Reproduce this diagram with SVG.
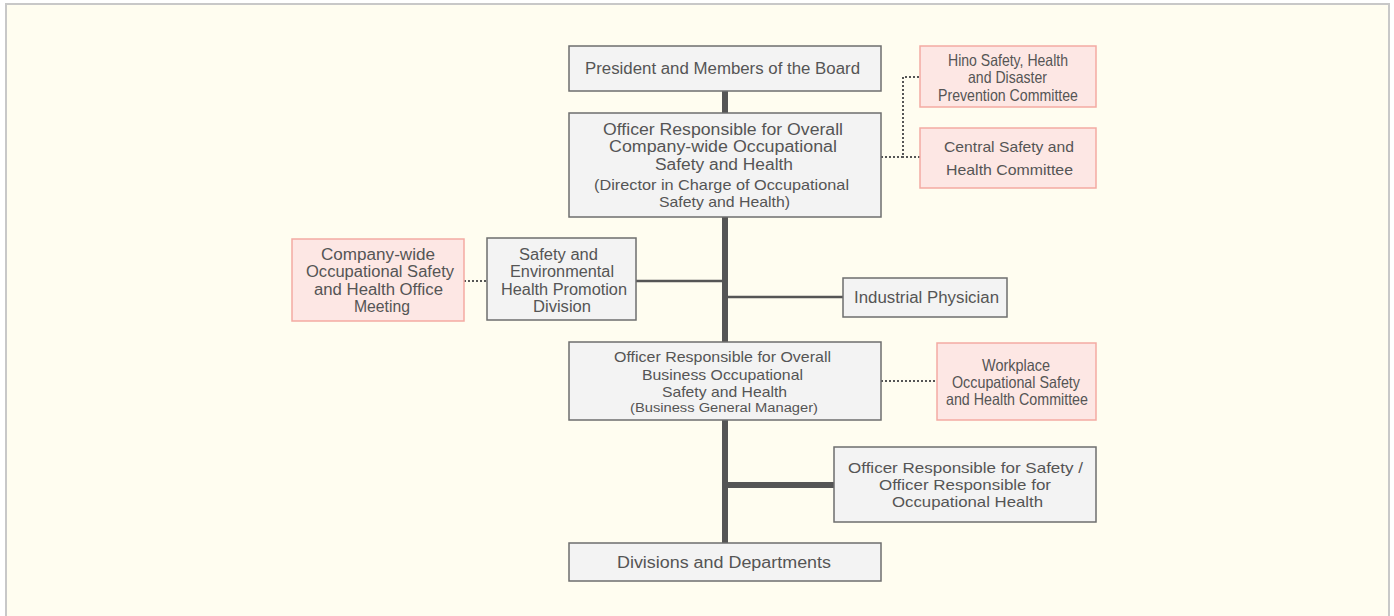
<svg xmlns="http://www.w3.org/2000/svg" width="1394" height="616" viewBox="0 0 1394 616">
<style>
.bg{fill:#fffdf0;stroke:#c8c8c8;stroke-width:2}
.g{fill:#f3f3f3;stroke:#6e6e6e;stroke-width:1.5}
.p{fill:#fde7e4;stroke:#f4aaa2;stroke-width:1.5}
text{font-family:"Liberation Sans",Arial,sans-serif;fill:#555;font-size:16px;text-anchor:middle}
.n{font-size:15px}
.c{font-size:16.5px}
.main{stroke:#555;stroke-width:6;fill:none}
.thin{stroke:#555;stroke-width:2.5;fill:none}
.dot{stroke:#555;stroke-width:2;stroke-dasharray:2 2;fill:none}
</style>
<rect class="bg" x="6" y="4" width="1383" height="620"/>
<g id="connectors">
<line class="main" x1="725" y1="91" x2="725" y2="543"/>
<line class="thin" x1="636" y1="281" x2="722" y2="281"/>
<line class="thin" x1="728" y1="297" x2="843" y2="297"/>
<line class="main" x1="725" y1="485" x2="834" y2="485"/>
<polyline class="dot" points="881,157 903,157 903,77 920,77"/>
<line class="dot" x1="920" y1="157" x2="903" y2="157"/>
<line class="dot" x1="464" y1="281" x2="487" y2="281"/>
<line class="dot" x1="881" y1="381" x2="937" y2="381"/>
</g>
<g id="president">
<rect class="g" x="569" y="46" width="312" height="45"/>
<text x="722.5" y="74" textLength="275" lengthAdjust="spacingAndGlyphs">President and Members of the Board</text>
</g>
<g id="officer-company">
<rect class="g" x="569" y="113" width="312" height="104"/>
<text x="723" y="135" textLength="240" lengthAdjust="spacingAndGlyphs">Officer Responsible for Overall</text>
<text x="723" y="152" textLength="228" lengthAdjust="spacingAndGlyphs">Company-wide Occupational</text>
<text x="724" y="170" textLength="138" lengthAdjust="spacingAndGlyphs">Safety and Health</text>
<text class="n" x="721.5" y="190" textLength="255" lengthAdjust="spacingAndGlyphs">(Director in Charge of Occupational</text>
<text class="n" x="724.5" y="207" textLength="131" lengthAdjust="spacingAndGlyphs">Safety and Health)</text>
</g>
<g id="hino">
<rect class="p" x="920" y="46" width="176" height="61"/>
<text class="c" x="1008" y="66" textLength="120" lengthAdjust="spacingAndGlyphs">Hino Safety, Health</text>
<text class="c" x="1007.5" y="83" textLength="79" lengthAdjust="spacingAndGlyphs">and Disaster</text>
<text class="c" x="1008" y="101" textLength="140" lengthAdjust="spacingAndGlyphs">Prevention Committee</text>
</g>
<g id="central">
<rect class="p" x="920" y="128" width="176" height="60"/>
<text class="n" x="1009" y="152" textLength="130" lengthAdjust="spacingAndGlyphs">Central Safety and</text>
<text class="n" x="1009.5" y="175" textLength="127" lengthAdjust="spacingAndGlyphs">Health Committee</text>
</g>
<g id="meeting">
<rect class="p" x="292" y="239" width="172" height="82"/>
<text x="378" y="260" textLength="114" lengthAdjust="spacingAndGlyphs">Company-wide</text>
<text x="380" y="277" textLength="148" lengthAdjust="spacingAndGlyphs">Occupational Safety</text>
<text x="378.5" y="295" textLength="129" lengthAdjust="spacingAndGlyphs">and Health Office</text>
<text x="382" y="312" textLength="56" lengthAdjust="spacingAndGlyphs">Meeting</text>
</g>
<g id="safety-division">
<rect class="g" x="487" y="238" width="149" height="82"/>
<text x="558.5" y="260" textLength="79" lengthAdjust="spacingAndGlyphs">Safety and</text>
<text x="562" y="277" textLength="104" lengthAdjust="spacingAndGlyphs">Environmental</text>
<text x="564" y="295" textLength="126" lengthAdjust="spacingAndGlyphs">Health Promotion</text>
<text x="562" y="312" textLength="58" lengthAdjust="spacingAndGlyphs">Division</text>
</g>
<g id="physician">
<rect class="g" x="843" y="278" width="164" height="39"/>
<text x="926.5" y="303" textLength="145" lengthAdjust="spacingAndGlyphs">Industrial Physician</text>
</g>
<g id="officer-business">
<rect class="g" x="569" y="342" width="312" height="78"/>
<text class="n" x="722.5" y="362" textLength="217" lengthAdjust="spacingAndGlyphs">Officer Responsible for Overall</text>
<text class="n" x="722.5" y="380" textLength="161" lengthAdjust="spacingAndGlyphs">Business Occupational</text>
<text class="n" x="724.5" y="397" textLength="125" lengthAdjust="spacingAndGlyphs">Safety and Health</text>
<text x="724" y="412" style="font-size:12.5px" textLength="188" lengthAdjust="spacingAndGlyphs">(Business General Manager)</text>
</g>
<g id="workplace">
<rect class="p" x="937" y="343" width="159" height="77"/>
<text class="c" x="1016" y="371" textLength="68" lengthAdjust="spacingAndGlyphs">Workplace</text>
<text class="c" x="1016" y="388" textLength="128" lengthAdjust="spacingAndGlyphs">Occupational Safety</text>
<text class="c" x="1017" y="405" textLength="142" lengthAdjust="spacingAndGlyphs">and Health Committee</text>
</g>
<g id="officer-safety">
<rect class="g" x="834" y="447" width="262" height="75"/>
<text class="n" x="965.5" y="473" textLength="235" lengthAdjust="spacingAndGlyphs">Officer Responsible for Safety /</text>
<text class="n" x="965" y="490" textLength="172" lengthAdjust="spacingAndGlyphs">Officer Responsible for</text>
<text class="n" x="967.5" y="507" textLength="151" lengthAdjust="spacingAndGlyphs">Occupational Health</text>
</g>
<g id="divisions">
<rect class="g" x="569" y="543" width="312" height="38"/>
<text x="724" y="568" textLength="214" lengthAdjust="spacingAndGlyphs">Divisions and Departments</text>
</g>
</svg>
